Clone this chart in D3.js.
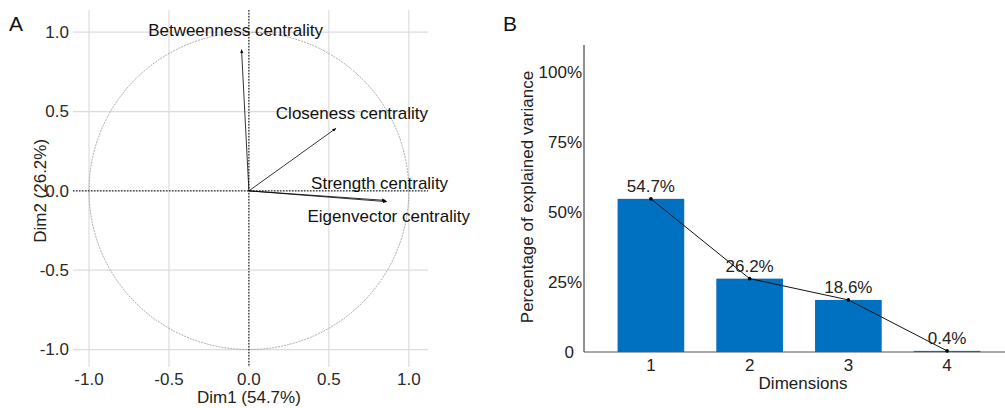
<!DOCTYPE html>
<html>
<head>
<meta charset="utf-8">
<script src="https://cdn.jsdelivr.net/npm/d3@7"></script>
<style>
  html, body { margin: 0; padding: 0; background: #fff; }
  svg { display: block; font-family: "Liberation Sans", Arial, sans-serif; }
</style>
</head>
<body>
<svg id="chart" width="1005" height="408"></svg>
<script>
// ---------- Panel A data (PCA variable loadings) ----------
const variables = ["Betweenness centrality", "Closeness centrality", "Strength centrality", "Eigenvector centrality"];
const dim1Loadings = [-0.046, 0.544, 0.855, 0.862];
const dim2Loadings = [0.890, 0.394, -0.060, -0.068];
const axisTicksA = [-1.0, -0.5, 0.0, 0.5, 1.0];
const dim1Label = "Dim1 (54.7%)";
const dim2Label = "Dim2 (26.2%)";

// ---------- Panel B data (scree plot) ----------
const dimensions = ["1", "2", "3", "4"];
const explainedVariance = [54.7, 26.2, 18.6, 0.4];
const percentTicks = [0, 25, 50, 75, 100];
const percentTickLabels = ["0", "25%", "50%", "75%", "100%"];

const svg = d3.select("#chart");
const FS = 17;
const fmtA = d => d3.format(".1f")(d).replace("\u2212", "-");

// ================= Panel A =================
const gA = svg.append("g");
const xA = d3.scaleLinear().domain([-1.1, 1.12]).range([73, 428]);
const yA = d3.scaleLinear().domain([-1.11, 1.14]).range([367, 10]);

// grid
gA.append("g").selectAll("line").data(axisTicksA).join("line")
  .attr("x1", d => xA(d)).attr("x2", d => xA(d))
  .attr("y1", yA.range()[1]).attr("y2", yA.range()[0])
  .attr("stroke", "#dcdcdc").attr("stroke-width", 1.2);
gA.append("g").selectAll("line").data(axisTicksA).join("line")
  .attr("y1", d => yA(d)).attr("y2", d => yA(d))
  .attr("x1", xA.range()[0]).attr("x2", xA.range()[1])
  .attr("stroke", "#dcdcdc").attr("stroke-width", 1.2);

// tick labels
gA.append("g").selectAll("text").data(axisTicksA).join("text")
  .attr("x", d => xA(d)).attr("y", 385)
  .attr("text-anchor", "middle").attr("font-size", FS).attr("fill", "#2a2a2a")
  .text(fmtA);
gA.append("g").selectAll("text").data(axisTicksA).join("text")
  .attr("x", 69).attr("y", d => yA(d)).attr("dy", "0.35em")
  .attr("text-anchor", "end").attr("font-size", FS).attr("fill", "#2a2a2a")
  .text(fmtA);

// unit circle (dashed)
const angles = d3.range(0, 361, 2).map(a => a * Math.PI / 180);
gA.append("path")
  .datum(angles)
  .attr("d", d3.line().x(a => xA(Math.cos(a))).y(a => yA(Math.sin(a))))
  .attr("fill", "none").attr("stroke", "#8a8a8a").attr("stroke-width", 0.7)
  .attr("stroke-dasharray", "2,1");

// dotted axes through origin
gA.append("line")
  .attr("x1", xA.range()[0]).attr("x2", xA.range()[1])
  .attr("y1", yA(0)).attr("y2", yA(0))
  .attr("stroke", "#000").attr("stroke-width", 1).attr("stroke-dasharray", "1.5,1.5");
gA.append("line")
  .attr("y1", yA.range()[1]).attr("y2", yA.range()[0])
  .attr("x1", xA(0)).attr("x2", xA(0))
  .attr("stroke", "#000").attr("stroke-width", 1).attr("stroke-dasharray", "1.5,1.5");

// arrow marker
svg.append("defs").append("marker")
  .attr("id", "arrow").attr("viewBox", "0 0 10 10")
  .attr("refX", 9).attr("refY", 5)
  .attr("markerWidth", 5).attr("markerHeight", 5)
  .attr("orient", "auto-start-reverse")
  .append("path").attr("d", "M0,1 L10,5 L0,9 z").attr("fill", "#000");

const loadings = variables.map((v, i) => ({ name: v, x: dim1Loadings[i], y: dim2Loadings[i] }));
gA.append("g").selectAll("line").data(loadings).join("line")
  .attr("x1", xA(0)).attr("y1", yA(0))
  .attr("x2", d => xA(d.x)).attr("y2", d => yA(d.y))
  .attr("stroke", "#000").attr("stroke-width", 0.8)
  .attr("marker-end", "url(#arrow)");

// variable labels (offset from arrow tips)
const labelOffsets = [[-6, -14], [16, -9], [-6, -11], [2, 20]];
gA.append("g").selectAll("text").data(loadings).join("text")
  .attr("x", (d, i) => xA(d.x) + labelOffsets[i][0])
  .attr("y", (d, i) => yA(d.y) + labelOffsets[i][1])
  .attr("text-anchor", "middle").attr("font-size", FS).attr("fill", "#111")
  .text(d => d.name);

// axis titles
gA.append("text").attr("x", xA(0)).attr("y", 403)
  .attr("text-anchor", "middle").attr("font-size", FS).attr("fill", "#222")
  .text(dim1Label);
gA.append("text").attr("transform", `translate(46,${yA(0)}) rotate(-90)`)
  .attr("text-anchor", "middle").attr("font-size", FS).attr("fill", "#222")
  .text(dim2Label);

// panel letter
svg.append("text").attr("x", 9).attr("y", 31).attr("font-size", 21).attr("fill", "#111").text("A");

// ================= Panel B =================
const gB = svg.append("g");
const xB = d3.scaleBand().domain(dimensions).range([584, 1014]).paddingInner(0.325).paddingOuter(0.34);
const yB = d3.scaleLinear().domain([0, 110]).range([352, 44]);

// bars
gB.append("g").selectAll("rect").data(explainedVariance).join("rect")
  .attr("x", (d, i) => xB(dimensions[i]))
  .attr("width", xB.bandwidth())
  .attr("y", d => yB(d))
  .attr("height", d => yB(0) - yB(d))
  .attr("fill", "#0070c0");

// axes lines
gB.append("line").attr("x1", 584).attr("x2", 584).attr("y1", 45).attr("y2", yB(0))
  .attr("stroke", "#222").attr("stroke-width", 1);
gB.append("line").attr("x1", 584).attr("x2", 1005).attr("y1", yB(0)).attr("y2", yB(0))
  .attr("stroke", "#555").attr("stroke-width", 1.2);

// y tick labels
gB.append("g").selectAll("text").data(percentTicks).join("text")
  .attr("x", (d, i) => i === 0 ? 574 : 582).attr("y", d => yB(d)).attr("dy", "0.35em")
  .attr("text-anchor", "end").attr("font-size", FS).attr("fill", "#222")
  .text((d, i) => percentTickLabels[i]);

// x tick labels
gB.append("g").selectAll("text").data(dimensions).join("text")
  .attr("x", d => xB(d) + xB.bandwidth() / 2).attr("y", 371)
  .attr("text-anchor", "middle").attr("font-size", FS).attr("fill", "#222")
  .text(d => d);

// line + points
const pts = explainedVariance.map((v, i) => [xB(dimensions[i]) + xB.bandwidth() / 2, yB(v)]);
gB.append("path").datum(pts)
  .attr("d", d3.line())
  .attr("fill", "none").attr("stroke", "#111").attr("stroke-width", 1);
gB.append("g").selectAll("circle").data(pts).join("circle")
  .attr("cx", d => d[0]).attr("cy", d => d[1]).attr("r", 1.8).attr("fill", "#000");

// value labels
gB.append("g").selectAll("text").data(explainedVariance).join("text")
  .attr("x", (d, i) => xB(dimensions[i]) + xB.bandwidth() / 2)
  .attr("y", d => yB(d) - 6.5)
  .attr("text-anchor", "middle").attr("font-size", FS).attr("fill", "#222")
  .text(d => d3.format(".1f")(d) + "%");

// axis titles
gB.append("text").attr("x", 803).attr("y", 389)
  .attr("text-anchor", "middle").attr("font-size", FS).attr("fill", "#222")
  .text("Dimensions");
gB.append("text").attr("transform", `translate(533,197) rotate(-90)`)
  .attr("text-anchor", "middle").attr("font-size", FS).attr("fill", "#222")
  .text("Percentage of explained variance");

svg.append("text").attr("x", 503).attr("y", 31).attr("font-size", 21).attr("fill", "#111").text("B");
</script>
</body>
</html>
